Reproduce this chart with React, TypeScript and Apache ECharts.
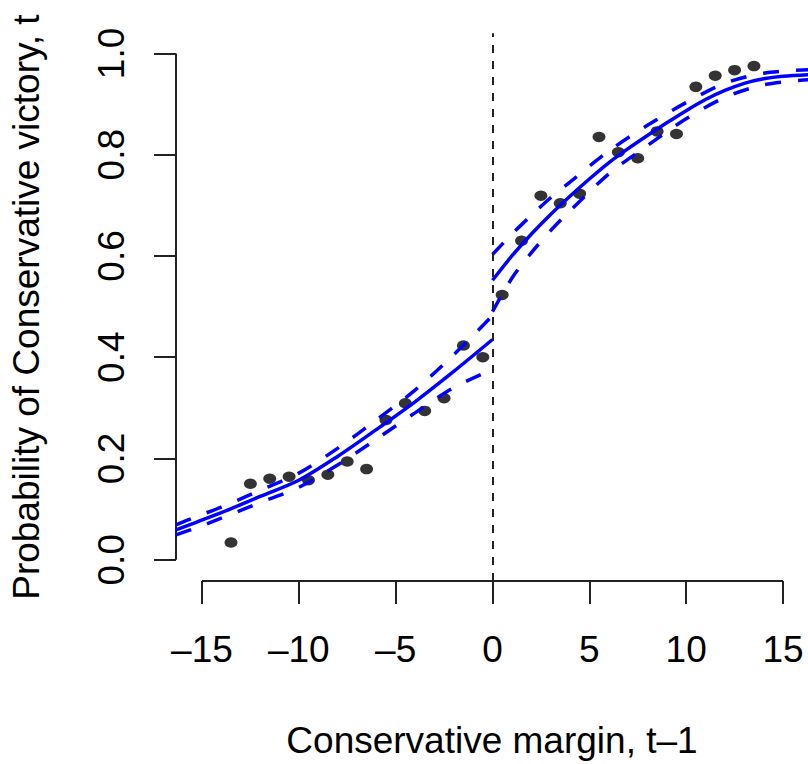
import React, { useEffect, useRef } from "react";
import * as echarts from "echarts";

// Binned Conservative margin at t-1 (bin centres) and observed share of Conservative victories at t
const marginBins = [
  -13.5, -12.5, -11.5, -10.5, -9.5, -8.5, -7.5, -6.5, -5.5, -4.5, -3.5, -2.5, -1.5, -0.5,
  0.5, 1.5, 2.5, 3.5, 4.5, 5.5, 6.5, 7.5, 8.5, 9.5, 10.5, 11.5, 12.5, 13.5,
];
const winShare = [
  0.034, 0.150, 0.160, 0.164, 0.157, 0.168, 0.194, 0.179, 0.276, 0.309, 0.294, 0.319, 0.423, 0.400,
  0.523, 0.630, 0.719, 0.704, 0.723, 0.835, 0.805, 0.793, 0.846, 0.841, 0.934, 0.956, 0.967, 0.975,
];

// Fitted curve left of the threshold, with its confidence band
const leftX = [-16.34, -15.3, -14, -12, -10, -8, -6, -4, -2, 0];
const leftFit = [0.059, 0.074, 0.093, 0.125, 0.157, 0.204, 0.257, 0.312, 0.372, 0.435];
const leftUpper = [0.069, 0.085, 0.104, 0.137, 0.171, 0.220, 0.276, 0.335, 0.405, 0.482];
const leftLower = [0.049, 0.063, 0.082, 0.113, 0.143, 0.187, 0.238, 0.290, 0.340, 0.376];

// Fitted curve right of the threshold, with its confidence band
const rightX = [0, 1, 2, 3, 4, 5, 6, 7, 8, 9, 10, 11, 12, 13, 14, 15, 16.3];
const rightFit = [0.552, 0.600, 0.643, 0.682, 0.718, 0.752, 0.784, 0.812, 0.838, 0.863, 0.887, 0.909, 0.927, 0.941, 0.950, 0.955, 0.958];
const rightBandX = [0, 1, 2, 3, 4, 6, 8, 10, 12, 14, 16.3];
const rightUpper = [0.603, 0.643, 0.680, 0.715, 0.746, 0.807, 0.858, 0.903, 0.941, 0.961, 0.968];
const rightLower = [0.490, 0.556, 0.606, 0.650, 0.689, 0.762, 0.818, 0.871, 0.913, 0.938, 0.948];

const thresholdX = [0];
const xTickValues = [-15, -10, -5, 0, 5, 10, 15];
const yTickValues = [0, 0.2, 0.4, 0.6, 0.8, 1.0];
const xAxisTitle = "Conservative margin, t\u20131";
const yAxisTitle = "Probability of Conservative victory, t";

const X_MIN = -16.34;
const X_MAX = 16.29;
const Y_MIN = -0.042;
const Y_MAX = 1.04;

export default function App() {
  const ref = useRef<HTMLDivElement>(null);

  useEffect(() => {
    if (!ref.current) return;
    const chart = echarts.init(ref.current, null, { renderer: "svg" });
    const font = "'Liberation Sans', Arial, Helvetica, sans-serif";
    const blue = "#0000ff";
    const axisColor = "#222";
    const pair = (xs: number[], ys: number[]) => xs.map((x, i) => [x, ys[i]]);
    const curve = (xs: number[], ys: number[], dashed: boolean) => ({
      type: "line",
      data: pair(xs, ys),
      symbol: "none",
      smooth: 0.3,
      silent: true,
      z: 4,
      lineStyle: {
        color: blue,
        width: 3.5,
        type: dashed ? [16, 17] : "solid",
        cap: "butt",
      },
    });
    const textStyle = { fontSize: 37, fontFamily: font, color: "#000" };

    chart.setOption({
      animation: false,
      backgroundColor: "#fff",
      grid: { left: 175, right: 0, top: 33.2, bottom: 182.5, containLabel: false },
      xAxis: {
        type: "value",
        min: X_MIN,
        max: X_MAX,
        axisLine: { show: false, onZero: false },
        splitLine: { show: false },
        axisTick: {
          show: true,
          inside: false,
          length: 23,
          customValues: xTickValues,
          lineStyle: { color: axisColor, width: 2 },
        },
        axisLabel: {
          customValues: xTickValues,
          margin: 50,
          ...textStyle,
          formatter: (v: number) => String(v).replace("-", "\u2013"),
        },
        name: xAxisTitle,
        nameLocation: "middle",
        nameGap: 141,
        nameTextStyle: textStyle,
      },
      yAxis: {
        type: "value",
        min: Y_MIN,
        max: Y_MAX,
        axisLine: { show: false, onZero: false },
        splitLine: { show: false },
        axisTick: {
          show: true,
          inside: false,
          length: 22,
          customValues: yTickValues,
          lineStyle: { color: axisColor, width: 2 },
        },
        axisLabel: {
          customValues: yTickValues,
          margin: 46,
          rotate: 90,
          ...textStyle,
          formatter: (v: number) => v.toFixed(1),
        },
        name: yAxisTitle,
        nameLocation: "middle",
        nameGap: 131,
        nameTextStyle: textStyle,
      },
      series: [
        {
          type: "scatter",
          data: pair(marginBins, winShare),
          symbol: "circle",
          symbolSize: [13, 10.5],
          itemStyle: { color: "#000" },
          silent: true,
          z: 3,
          markLine: {
            silent: true,
            symbol: "none",
            label: { show: false },
            lineStyle: { color: axisColor, width: 2, type: [8, 8] },
            data: thresholdX.map((x) => ({ xAxis: x })),
          },
        },
        {
          type: "line",
          data: [
            [xTickValues[0], Y_MIN],
            [xTickValues[xTickValues.length - 1], Y_MIN],
          ],
          symbol: "none",
          clip: false,
          silent: true,
          lineStyle: { color: axisColor, width: 2 },
        },
        {
          type: "line",
          data: [
            [X_MIN, yTickValues[0]],
            [X_MIN, yTickValues[yTickValues.length - 1]],
          ],
          symbol: "none",
          clip: false,
          silent: true,
          lineStyle: { color: axisColor, width: 2 },
        },
        curve(leftX, leftFit, false),
        curve(leftX, leftUpper, true),
        curve(leftX, leftLower, true),
        curve(rightX, rightFit, false),
        curve(rightBandX, rightUpper, true),
        curve(rightBandX, rightLower, true),
      ],
    });

    return () => chart.dispose();
  }, []);

  return (
    <div
      ref={ref}
      style={{ position: "fixed", left: 0, top: 0, width: 808, height: 764, background: "#fff" }}
    />
  );
}
